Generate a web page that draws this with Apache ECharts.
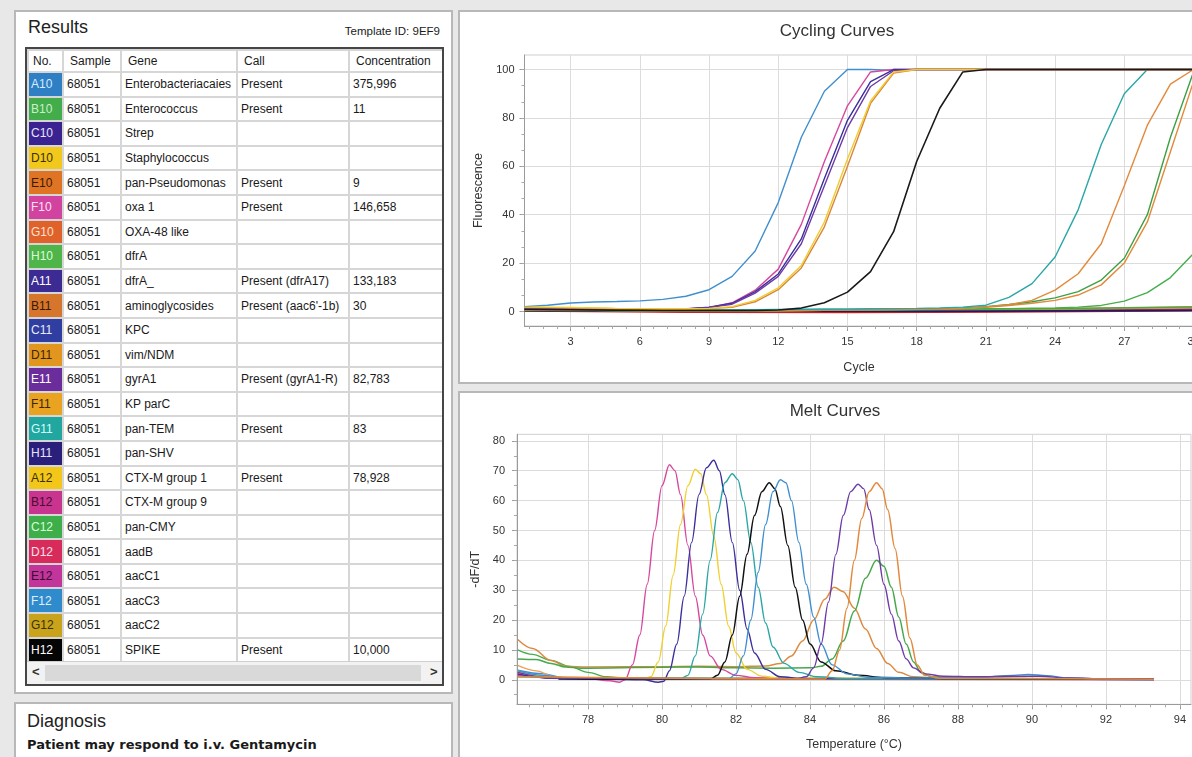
<!DOCTYPE html>
<html>
<head>
<meta charset="utf-8">
<title>Results</title>
<script src="https://cdn.jsdelivr.net/npm/echarts@6/dist/echarts.min.js"></script>
<style>
html, body { margin: 0; padding: 0; }
body {
    width: 1192px; height: 757px; overflow: hidden; position: relative;
    background: #e8e8e8; font-family: "Liberation Sans", Arial, sans-serif; color: #1a1a1a;
}
.panel { position: absolute; background: #fff; border: 2px solid #b8b8b8; box-sizing: border-box; }
#results { left: 14px; top: 10px; width: 439px; height: 684px; }
#diag { left: 14px; top: 702px; width: 439px; height: 80px; }
#cycPanel { left: 458px; top: 10px; width: 760px; height: 374px; }
#meltPanel { left: 458px; top: 391px; width: 760px; height: 380px; }
.title { position: absolute; font-size: 18px; color: #222; }
#tmpl { position: absolute; left: 300px; width: 140px; top: 25px; text-align: right; font-size: 11.5px; }
#tableBox {
    position: absolute; left: 25px; top: 47px; width: 419px; height: 639px;
    border: 2px solid #464646; box-sizing: border-box; background: #fff; overflow: hidden;
}
table { border-collapse: collapse; table-layout: fixed; width: 415px; font-size: 12px; }
td, th { border: 2px solid #d6d6d6; padding: 0 0 0 3px; white-space: nowrap; overflow: hidden; text-align: left; font-weight: normal; }
th { height: 20px; padding-left: 6px; }
td { height: 22.6px; }
td.well { padding-left: 2px; }
#scroll { position: absolute; left: 0; bottom: 0; width: 415px; height: 22px; background: #f2f2f2; border-top: 1px solid #cfcfcf; }
#track { position: absolute; left: 18px; top: 3px; width: 376px; height: 16px; background: #d9d9d9; }
.arr { position: absolute; top: 2px; font-size: 13px; font-weight: bold; color: #333; }
#cycChart { position: absolute; left: 460px; top: 12px; width: 800px; height: 370px; }
#meltChart { position: absolute; left: 460px; top: 393px; width: 800px; height: 364px; }
</style>
</head>
<body>
<div class="panel" id="results"></div>
<div class="title" style="left:28px; top:17px;">Results</div>
<div id="tmpl">Template ID: 9EF9</div>
<div id="tableBox">
    <table id="resTable"></table>
    <div id="scroll"><div id="track"></div><span class="arr" style="left:5px">&lt;</span><span class="arr" style="left:403px">&gt;</span></div>
</div>
<div class="panel" id="diag"></div>
<div class="title" style="left:27px; top:711px;">Diagnosis</div>
<div style="position:absolute; left:27px; top:737px; font-family:'DejaVu Sans', sans-serif; font-weight:bold; font-size:13px;">Patient may respond to i.v. Gentamycin</div>
<div class="panel" id="cycPanel"></div>
<div class="panel" id="meltPanel"></div>
<div id="cycChart"></div>
<div id="meltChart"></div>
<script>
// ---- results table ----
var wells = ['A10','B10','C10','D10','E10','F10','G10','H10','A11','B11','C11','D11','E11','F11','G11','H11','A12','B12','C12','D12','E12','F12','G12','H12'];
var wellColors = ['#2f7fc4','#43ad4b','#3a2390','#f2c81c','#df7424','#d2439f','#e0622b','#4fb44a','#3b2b92','#d5762c','#2f3ea0','#e3961f','#6c2d9c','#e9a321','#21a6a0','#2b1f7c','#f3c61a','#c9348f','#3dae4a','#d72b5c','#c2359b','#2f8bcb','#c9a31c','#050505'];
var wellText = ['#d8ecff','#c9f0c9','#e8e4ff','#3a3000','#3a1a00','#ffe0f2','#ffe0d0','#d8ffd8','#ffffff','#3a1a00','#e8ecff','#3a2600','#ffffff','#3a2600','#d0ffff','#e8e4ff','#3a3000','#4a0a30','#d8ffd8','#ffe0ea','#3a0a30','#e0f0ff','#3a3000','#ffffff'];
var samples = '68051';
var genes = ['Enterobacteriacaies','Enterococcus','Strep','Staphylococcus','pan-Pseudomonas','oxa 1','OXA-48 like','dfrA','dfrA_','aminoglycosides','KPC','vim/NDM','gyrA1','KP parC','pan-TEM','pan-SHV','CTX-M group 1','CTX-M group 9','pan-CMY','aadB','aacC1','aacC3','aacC2','SPIKE'];
var calls = ['Present','Present','','','Present','Present','','','Present (dfrA17)','Present (aac6\'-1b)','','','Present (gyrA1-R)','','Present','','Present','','','','','','','Present'];
var concentrations = ['375,996','11','','','9','146,658','','','133,183','30','','','82,783','','83','','78,928','','','','','','','10,000'];

var html = '<colgroup><col style="width:35px"><col style="width:58px"><col style="width:116px"><col style="width:112px"><col style="width:94px"></colgroup>';
html += '<tr><th style="padding-left:4px">No.</th><th>Sample</th><th>Gene</th><th>Call</th><th>Concentration</th></tr>';
for (var i = 0; i < wells.length; i++) {
    html += '<tr><td class="well" style="background:' + wellColors[i] + ';color:' + wellText[i] + '">' + wells[i] + '</td>' +
        '<td>' + samples + '</td><td>' + genes[i] + '</td><td>' + calls[i] + '</td><td>' + concentrations[i] + '</td></tr>';
}
document.getElementById('resTable').innerHTML = html;

// ---- cycling curves (fluorescence per cycle, cycles 1..30) ----
var cycles = [1,2,3,4,5,6,7,8,9,10,11,12,13,14,15,16,17,18,19,20,21,22,23,24,25,26,27,28,29,30];
var cycBlue =        [2.0,2.6,3.5,3.9,4.1,4.4,5.0,6.3,9.0,14.5,25,45,72,91,100,100,99.6,100,100,100,100,100,100,100,100,100,100,100,100,100];
var cycMagenta =     [1.4,1.4,1.3,1.2,1.0,0.9,0.9,1.1,1.6,3.6,8.8,17.5,36,62,85,99,100,100,100,100,100,100,100,100,100,100,100,100,100,100];
var cycIndigo =      [1.0,1.0,1.0,0.9,0.8,0.8,0.8,1.0,1.8,3.4,8.2,15.5,30,55,79,95,100,100,100,100,100,100,100,100,100,100,100,100,100,100];
var cycPurple =      [1.2,1.2,1.1,1.0,0.9,0.8,0.8,1.0,1.7,3.0,7.6,14.5,28,52,76,93,99.5,100,100,100,100,100,100,100,100,100,100,100,100,100];
var cycOrangeEarly = [1.5,1.5,1.4,1.3,1.1,1.0,1.0,1.0,1.2,1.7,4.0,9.0,18,35,60,86,98.5,100,100,100,100,100,100,100,100,100,100,100,100,100];
var cycYellow =      [1.8,1.8,1.7,1.5,1.3,1.2,1.1,1.1,1.3,2.0,4.6,9.8,19,37,63,87,99,100,100,100,100,100,100,100,100,100,100,100,100,100];
var cycBlack =       [0.9,0.8,0.7,0.6,0.5,0.5,0.4,0.4,0.4,0.4,0.4,0.6,1.4,3.6,8,16.5,33,62,84,99,100,100,100,100,100,100,100,100,100,100];
var cycTeal =        [1.0,1.0,0.9,0.8,0.7,0.6,0.5,0.5,0.5,0.6,0.7,0.8,0.9,1.0,1.0,1.1,1.2,1.3,1.5,1.8,2.6,5.8,11.5,22.5,42,69,90,100,100,100];
var cycOrangeLate =  [0.8,0.8,0.7,0.6,0.5,0.4,0.3,0.3,0.3,0.3,0.3,0.3,0.4,0.5,0.6,0.7,0.8,0.9,1.0,1.3,1.9,2.8,4.6,8.8,15.6,28,52,77,94,100];
var cycGreen =       [0.6,0.6,0.5,0.5,0.4,0.4,0.3,0.3,0.3,0.3,0.3,0.4,0.5,0.6,0.7,0.8,0.9,1.0,1.2,1.5,2.0,2.9,4.0,5.6,8.2,13,22,40,72,99];
var cycOrange2 =     [0.7,0.7,0.6,0.5,0.4,0.4,0.3,0.3,0.3,0.3,0.3,0.3,0.4,0.5,0.6,0.7,0.8,0.9,1.0,1.2,1.7,2.4,3.4,4.6,6.8,11,20,37,66,95];
var cycGreenSlow =   [0.5,0.5,0.4,0.4,0.3,0.3,0.3,0.3,0.3,0.3,0.3,0.3,0.4,0.5,0.5,0.6,0.7,0.8,0.9,1.0,1.1,1.2,1.4,1.5,1.8,2.5,4.3,7.8,14,24];
// flat wells, read as [cycle, value]
var cycRed =      [[1,0.2],[8,-0.3],[15,-0.4],[22,-0.2],[30,0.3]];
var cycBrown =    [[1,1.0],[6,0.6],[12,0.3],[20,0.6],[30,2.0]];
var cycNavy =     [[1,1.2],[7,0.5],[13,0.2],[20,0.3],[30,0.8]];
var cycViolet =   [[1,0.8],[8,0.3],[16,0.2],[24,0.4],[30,1.0]];
var cycCrimson =  [[1,0.5],[8,0.0],[18,-0.1],[30,0.5]];
var cycGold =     [[1,1.6],[6,1.0],[12,0.4],[22,0.8],[30,1.5]];
var cycGreen2 =   [[1,0.9],[8,0.4],[18,0.8],[24,1.2],[30,1.8]];
var cycDarkBlue = [[1,0.3],[10,0.1],[20,0.1],[30,0.4]];
var cycLabels = [3,6,9,12,15,18,21,24,27,30];
var fluorLabels = [0,20,40,60,80,100];

// ---- melt curves (-dF/dT against temperature, read as [T, value]) ----
var meltGreenHigh = [[76.1,10],[76.5,8.5],[77,6.5],[77.5,4.5],[78,2.5],[78.5,1],[79,0.5],[93.3,0.3]];
var meltLightOrange = [[76.1,4.8],[76.6,3],[77.1,1],[77.5,0.5],[93.3,0.2]];
var meltSteelBlue = [[76.1,3.2],[76.8,2],[77.3,0.8],[80,0.5],[93.3,0.2]];
var meltRed = [[76.1,1.8],[77,0.6],[80,0.2],[93.3,0.1]];
var meltGold = [[76.1,2.4],[76.9,1.2],[77.5,0.4],[93.3,0.3]];
var meltMagenta = [[76.1,1.5],[77,0.8],[78,0.3],[78.6,-0.3],[78.85,-0.8],[79.0,0],[79.2,5],[79.4,15],[79.6,32],[79.8,50],[80.0,65],[80.2,72],[80.35,70],[80.5,62],[80.7,45],[80.9,28],[81.1,15],[81.3,8],[81.6,3.5],[82,1.5],[82.5,0.7],[83,0.5],[85,0.3],[88,0.2],[93.3,0.1]];
var meltYellow = [[76.1,3],[76.6,1.5],[77.3,0.5],[79.5,0.3],[79.7,1],[79.9,6],[80.1,18],[80.3,35],[80.5,52],[80.7,65],[80.9,70.5],[81.05,69],[81.2,62],[81.4,48],[81.6,32],[81.8,18],[82,9],[82.3,3.5],[82.7,1.2],[83.2,0.5],[93.3,0.2]];
var meltIndigo = [[76.1,2],[77,0.5],[79.5,0],[79.9,-0.8],[80.05,-0.5],[80.2,3],[80.4,12],[80.6,28],[80.8,46],[81.0,62],[81.2,71],[81.4,73.5],[81.55,70],[81.7,62],[81.9,46],[82.1,30],[82.3,17],[82.5,9],[82.8,3.5],[83.2,1],[83.8,0.4],[93.3,0.1]];
var meltTeal = [[76.1,1],[80.5,0.3],[80.7,1.5],[80.9,8],[81.1,22],[81.3,40],[81.5,56],[81.7,66],[81.9,69],[82.05,67],[82.2,60],[82.4,46],[82.6,31],[82.8,19],[83.0,11],[83.3,5.5],[83.7,2.5],[84.2,1],[85,0.4],[93.3,0.1]];
var meltBlack = [[77.2,0.3],[81.3,0.2],[81.5,1.5],[81.7,6],[81.9,15],[82.1,28],[82.3,42],[82.5,55],[82.7,63],[82.9,66],[83.05,64],[83.2,58],[83.4,45],[83.6,31],[83.8,20],[84.0,12],[84.3,6],[84.7,3],[85.3,1.5],[86,0.8],[88,0.4],[93.3,0.2]];
var meltBlue = [[76.1,3],[76.8,1.5],[77.3,0.6],[81.8,0.3],[82.0,2],[82.2,8],[82.4,20],[82.6,36],[82.8,52],[83.0,63],[83.2,67],[83.35,66],[83.5,60],[83.7,46],[83.9,32],[84.1,21],[84.3,12],[84.6,5],[85,2],[85.6,0.8],[87,0.6],[88.5,0.8],[89.5,1.5],[89.9,1.8],[90.4,1.4],[91,0.6],[92,0.3],[93.3,0.2]];
var meltPurple = [[76.1,2.5],[77,0.6],[83.6,0.3],[83.9,1],[84.1,4],[84.3,12],[84.5,26],[84.7,42],[84.9,55],[85.1,63],[85.3,65.5],[85.45,64],[85.6,57],[85.8,45],[86.0,32],[86.2,22],[86.4,13],[86.6,7],[86.8,4],[87.1,2],[87.6,1.2],[88.5,1],[89.5,1.2],[90.2,1.2],[91,0.6],[92,0.3],[93.3,0.2]];
var meltOrangeBroad = [[76.1,13.5],[76.5,10.5],[77,6.5],[77.4,4.5],[78,4.3],[80,4.4],[81,4.5],[82,4.4],[82.8,4.6],[83.2,5.5],[83.5,8],[83.8,13],[84.1,20],[84.4,27],[84.65,31],[84.9,29.5],[85.2,24],[85.5,17],[85.8,10.5],[86.1,5.5],[86.4,2.5],[86.8,1],[87.5,0.5],[93.3,0.2]];
var meltGreen = [[76.1,7],[76.6,6.8],[77,5.5],[77.4,4.3],[77.8,3.9],[80,4.2],[81,4.3],[82,4],[83,3.9],[84,4],[84.3,4.5],[84.6,7],[84.9,13],[85.2,23],[85.5,34],[85.8,40],[86.0,38],[86.2,31],[86.4,21],[86.6,12],[86.8,6],[87.0,2.5],[87.3,1],[88,0.4],[93.3,0.2]];
var meltOrange = [[76.1,1],[84.4,0.3],[84.6,3],[84.8,10],[85.0,24],[85.2,40],[85.4,54],[85.6,63],[85.8,66],[85.95,64],[86.1,57],[86.3,44],[86.5,28],[86.7,14],[86.9,5],[87.1,1.5],[87.5,0.5],[93.3,0.2]];
var tempLabels = [78,80,82,84,86,88,90,92,94];
var dfdtLabels = [0,10,20,30,40,50,60,70,80];

// minor tick positions
function steps(from, to, step) {
    var out = [];
    for (var v = from; v <= to + 1e-9; v += step) out.push(Math.round(v * 1000) / 1000);
    return out;
}

var fontFam = '"Liberation Sans", Arial, sans-serif';
var lbl = { color: '#333', fontSize: 11, fontFamily: fontFam };

function mainAxis(min, max, labels, margin, nameTxt, gap, pos) {
    return {
        type: 'value', min: min, max: max, gridIndex: 0, position: pos, offset: 0,
        name: nameTxt, nameLocation: 'middle', nameGap: gap,
        nameTextStyle: { color: '#333', fontSize: 12.5, fontFamily: fontFam },
        axisLine: { show: true, onZero: false, lineStyle: { color: '#9a9a9a', width: 1 } },
        axisTick: { show: true, length: 5, customValues: labels, lineStyle: { color: '#9a9a9a' } },
        axisLabel: Object.assign({ customValues: labels, margin: margin }, lbl),
        splitLine: { show: true, lineStyle: { color: '#dcdcdc', width: 1 } }
    };
}
function minorAxis(min, max, ticks, pos) {
    return {
        type: 'value', min: min, max: max, gridIndex: 0, position: pos, offset: 0,
        axisLine: { show: false, onZero: false }, axisLabel: { show: false }, splitLine: { show: false },
        axisTick: { show: true, length: 3, customValues: ticks, lineStyle: { color: '#a8a8a8' } }
    };
}
function line(data, color, w, smooth) {
    return {
        type: 'line', data: data, xAxisIndex: 0, yAxisIndex: 0, showSymbol: false, symbol: 'none',
        smooth: smooth ? 0.35 : false, smoothMonotone: smooth ? 'x' : undefined, clip: true,
        lineStyle: { color: color, width: w || 1.4 }, silent: true
    };
}
function byCycle(values) {
    return values.map(function (v, i) { return [cycles[i], v]; });
}

var cycChart = echarts.init(document.getElementById('cycChart'));
cycChart.setOption({
    animation: false,
    title: { text: 'Cycling Curves', left: 372, top: 6, textAlign: 'center',
        textStyle: { fontSize: 17, fontWeight: 'normal', color: '#333', fontFamily: fontFam } },
    grid: { left: 64.5, top: 43, width: 669, height: 271, show: true, borderColor: '#cfcfcf', borderWidth: 1, outerBoundsMode: 'none' },
    xAxis: [
        mainAxis(1, 30, cycLabels, 10, 'Cycle', 35, 'bottom'),
        minorAxis(1, 30, steps(1.2, 30, 0.6), 'bottom')
    ],
    yAxis: [
        mainAxis(-6, 106, fluorLabels, 10, 'Fluorescence', 39, 'left'),
        minorAxis(-6, 106, steps(0, 100, 20 / 3), 'left')
    ],
    series: [
        line(cycRed, '#c8282a', 1.4),
        line(cycBrown, '#d07a2c', 1.4),
        line(cycNavy, '#2f3ea0', 1.4),
        line(cycViolet, '#7a3aa8', 1.4),
        line(cycCrimson, '#a01a3a', 1.4),
        line(cycGold, '#c9a31c', 1.4),
        line(cycGreen2, '#3dae4a', 1.4),
        line(cycDarkBlue, '#1c1a6a', 1.4),
        line(byCycle(cycGreenSlow), '#46ad4c'),
        line(byCycle(cycOrange2), '#e08a3a'),
        line(byCycle(cycGreen), '#3f9f45'),
        line(byCycle(cycOrangeLate), '#e3893c'),
        line(byCycle(cycTeal), '#2aa6a6'),
        line(byCycle(cycBlue), '#3f8fd0'),
        line(byCycle(cycMagenta), '#d6489e'),
        line(byCycle(cycIndigo), '#3a2f9c'),
        line(byCycle(cycPurple), '#6d3aa6'),
        line(byCycle(cycOrangeEarly), '#d9863a'),
        line(byCycle(cycYellow), '#f0cc2e'),
        line(byCycle(cycBlack), '#1a1a1a', 1.6)
    ]
});

var meltChart = echarts.init(document.getElementById('meltChart'));
meltChart.setOption({
    animation: false,
    title: { text: 'Melt Curves', left: 370, top: 5, textAlign: 'center',
        textStyle: { fontSize: 17, fontWeight: 'normal', color: '#333', fontFamily: fontFam } },
    grid: { left: 57, top: 41.3, width: 674, height: 270, show: true, borderColor: '#cfcfcf', borderWidth: 1, outerBoundsMode: 'none' },
    xAxis: [
        mainAxis(76.08, 94.3, tempLabels, 10, 'Temperature (°C)', 34, 'bottom'),
        minorAxis(76.08, 94.3, steps(76.4, 94.3, 0.4), 'bottom')
    ],
    yAxis: [
        mainAxis(-8.2, 82.2, dfdtLabels, 12, '-dF/dT', 35, 'left'),
        minorAxis(-8.2, 82.2, steps(-5, 80, 5), 'left')
    ],
    series: [
        line(meltRed, '#c8282a', 1.4, true),
        line(meltGold, '#c9a31c', 1.4, true),
        line(meltSteelBlue, '#3f8fd0', 1.4, true),
        line(meltLightOrange, '#f0a050', 1.4, true),
        line(meltGreenHigh, '#46ad4c', 1.4, true),
        line(meltOrangeBroad, '#dc8a40', 1.5, true),
        line(meltGreen, '#46a84a', 1.5, true),
        line(meltMagenta, '#d6489e', 1.4, true),
        line(meltYellow, '#f0d030', 1.4, true),
        line(meltIndigo, '#3a2f9c', 1.4, true),
        line(meltTeal, '#2aa6a6', 1.4, true),
        line(meltBlack, '#111111', 1.5, true),
        line(meltBlue, '#3f8fd0', 1.4, true),
        line(meltPurple, '#6d3aa6', 1.4, true),
        line(meltOrange, '#e3893c', 1.5, true)
    ]
});
</script>
</body>
</html>
